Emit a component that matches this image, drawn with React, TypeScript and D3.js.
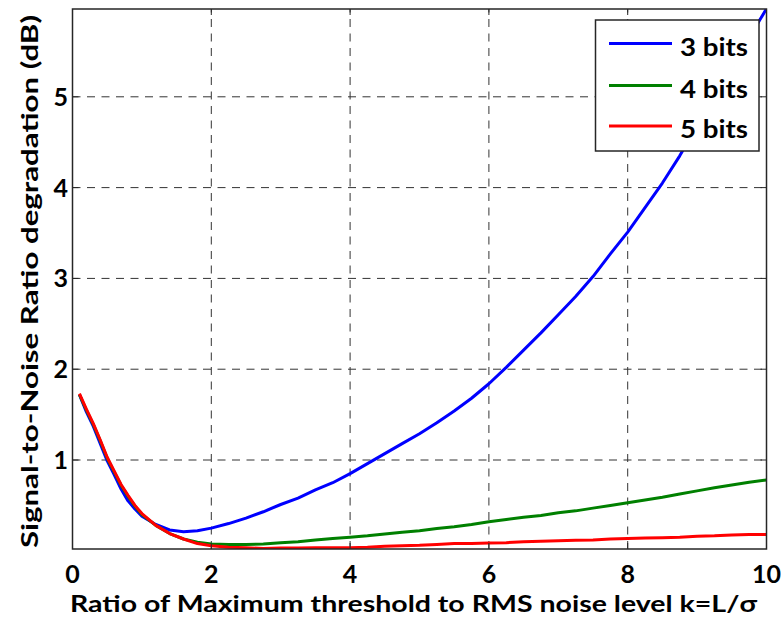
import React from "react";
import * as d3 from "d3";

// k = L / sigma sample points
const kValues = [
  0.1, 0.2, 0.3, 0.4, 0.5, 0.6, 0.7, 0.8, 0.9, 1.0, 1.2, 1.4, 1.6, 1.8, 2.0,
  2.25, 2.5, 2.75, 3.0, 3.25, 3.5, 3.75, 4.0, 4.25, 4.5, 4.75, 5.0, 5.25, 5.5,
  5.75, 6.0, 6.25, 6.5, 6.75, 7.0, 7.25, 7.5, 7.75, 8.0, 8.25, 8.5, 8.75, 9.0,
  9.25, 9.5, 9.75, 10,
];

// SNR degradation (dB) per quantizer resolution
const bits3 = [
  1.72, 1.53, 1.37, 1.18, 0.99, 0.84, 0.68, 0.55, 0.46, 0.38, 0.29, 0.23, 0.21,
  0.22, 0.25, 0.3, 0.36, 0.43, 0.51, 0.58, 0.67, 0.75, 0.85, 0.96, 1.07, 1.18,
  1.29, 1.41, 1.54, 1.68, 1.84, 2.02, 2.21, 2.4, 2.6, 2.8, 3.02, 3.27, 3.51,
  3.78, 4.05, 4.35, 4.68, 5.0, 5.32, 5.65, 5.97,
];
const bits4 = [
  1.72, 1.55, 1.39, 1.21, 1.02, 0.87, 0.72, 0.6, 0.49, 0.4, 0.28, 0.19, 0.13,
  0.095, 0.075, 0.07, 0.07, 0.075, 0.09, 0.1, 0.12, 0.135, 0.15, 0.165, 0.185,
  0.205, 0.22, 0.245, 0.265, 0.29, 0.32, 0.345, 0.37, 0.39, 0.42, 0.44, 0.47,
  0.5, 0.53, 0.56, 0.59, 0.625, 0.66, 0.695, 0.725, 0.755, 0.78,
];
const bits5 = [
  1.73, 1.56, 1.4, 1.22, 1.03, 0.88, 0.73, 0.61, 0.5, 0.41, 0.28, 0.19, 0.13,
  0.08, 0.055, 0.04, 0.035, 0.025, 0.03, 0.03, 0.035, 0.035, 0.035, 0.04, 0.05,
  0.055, 0.06, 0.07, 0.08, 0.08, 0.085, 0.09, 0.1, 0.105, 0.11, 0.115, 0.12,
  0.13, 0.135, 0.14, 0.145, 0.15, 0.16, 0.165, 0.175, 0.18, 0.18,
];

const seriesNames = ["3 bits", "4 bits", "5 bits"];
const seriesColors = ["#0000ff", "#008000", "#ff0000"];
const seriesData = [bits3, bits4, bits5];

const xTicks = [0, 2, 4, 6, 8, 10];
const yTicks = [1, 2, 3, 4, 5];

const xLabel = "Ratio of Maximum threshold to RMS noise level k=L/σ";
const yLabel = "Signal-to-Noise Ratio degradation (dB)";

const W = 784;
const H = 620;
const FONT = "Lato, 'Open Sans', sans-serif";

export default function App() {
  const left = 72.5;
  const right = 766.5;
  const top = 9;
  const bottom = 549;

  const x = d3.scaleLinear().domain([0, 10]).range([left, right]);
  const y = d3.scaleLinear().domain([0.02, 5.967]).range([bottom, top]);

  const line = d3
    .line<number>()
    .x((_, i) => x(kValues[i]))
    .y((d) => y(d));

  const tickLen = 6;
  const frameColor = "#262626";
  const gridColor = "#333333";

  const legend = { x: 595.5, y: 20, w: 163.5, h: 131 };
  const legendRows = [43.5, 85.5, 126];

  return (
    <svg
      width={W}
      height={H}
      viewBox={`0 0 ${W} ${H}`}
      style={{ position: "absolute", left: 0, top: 0, background: "#fff" }}
      fontFamily={FONT}
      fontWeight="bold"
    >
      <defs>
        <clipPath id="plotClip">
          <rect x={left} y={top} width={right - left} height={bottom - top} />
        </clipPath>
      </defs>
      <rect x={0} y={0} width={W} height={H} fill="#fff" />

      {/* grid */}
      <g stroke={gridColor} strokeWidth={1} strokeDasharray="8,6.5">
        {xTicks
          .filter((t) => t > 0 && t < 10)
          .map((t) => (
            <line key={`gx${t}`} x1={x(t)} x2={x(t)} y1={bottom} y2={top} />
          ))}
        {yTicks.map((t) => (
          <line key={`gy${t}`} x1={left} x2={right} y1={y(t)} y2={y(t)} />
        ))}
      </g>

      {/* curves */}
      <g clipPath="url(#plotClip)" fill="none" strokeWidth={3} strokeLinejoin="round">
        {seriesData.map((s, i) => (
          <path key={seriesNames[i]} d={line(s) || ""} stroke={seriesColors[i]} />
        ))}
      </g>

      {/* ticks */}
      <g stroke={frameColor} strokeWidth={1}>
        {xTicks.map((t) => (
          <g key={`tx${t}`}>
            <line x1={x(t)} x2={x(t)} y1={bottom} y2={bottom - tickLen} />
            <line x1={x(t)} x2={x(t)} y1={top} y2={top + tickLen} />
          </g>
        ))}
        {yTicks.map((t) => (
          <g key={`ty${t}`}>
            <line x1={left} x2={left + tickLen} y1={y(t)} y2={y(t)} />
            <line x1={right} x2={right - tickLen} y1={y(t)} y2={y(t)} />
          </g>
        ))}
      </g>

      {/* frame */}
      <rect
        x={left}
        y={top}
        width={right - left}
        height={bottom - top}
        fill="none"
        stroke={frameColor}
        strokeWidth={1.5}
      />

      {/* tick labels */}
      <g fontSize={25} fill="#000">
        {xTicks.map((t) => (
          <text key={`lx${t}`} x={x(t)} y={583} textAnchor="middle">
            {t}
          </text>
        ))}
        {yTicks.map((t) => (
          <text key={`ly${t}`} x={68} y={y(t) + 9} textAnchor="end">
            {t}
          </text>
        ))}
      </g>

      {/* axis labels */}
      <text
        x={413.5}
        y={612}
        fontSize={23}
        textAnchor="middle"
        textLength={687}
        lengthAdjust="spacingAndGlyphs"
        fill="#000"
      >
        {xLabel}
      </text>
      <text
        transform={`translate(38, 281.5) rotate(-90)`}
        fontSize={23}
        textAnchor="middle"
        textLength={533}
        lengthAdjust="spacingAndGlyphs"
        fill="#000"
      >
        {yLabel}
      </text>

      {/* legend */}
      <rect
        x={legend.x}
        y={legend.y}
        width={legend.w}
        height={legend.h}
        fill="#fff"
        stroke={frameColor}
        strokeWidth={1.5}
      />
      {seriesNames.map((name, i) => (
        <g key={`lg${name}`}>
          <line
            x1={609}
            x2={672}
            y1={legendRows[i]}
            y2={legendRows[i]}
            stroke={seriesColors[i]}
            strokeWidth={3}
          />
          <text
            x={680}
            y={legendRows[i] + 12}
            fontSize={25}
            textLength={68}
            lengthAdjust="spacingAndGlyphs"
            fill="#000"
          >
            {name}
          </text>
        </g>
      ))}
    </svg>
  );
}
